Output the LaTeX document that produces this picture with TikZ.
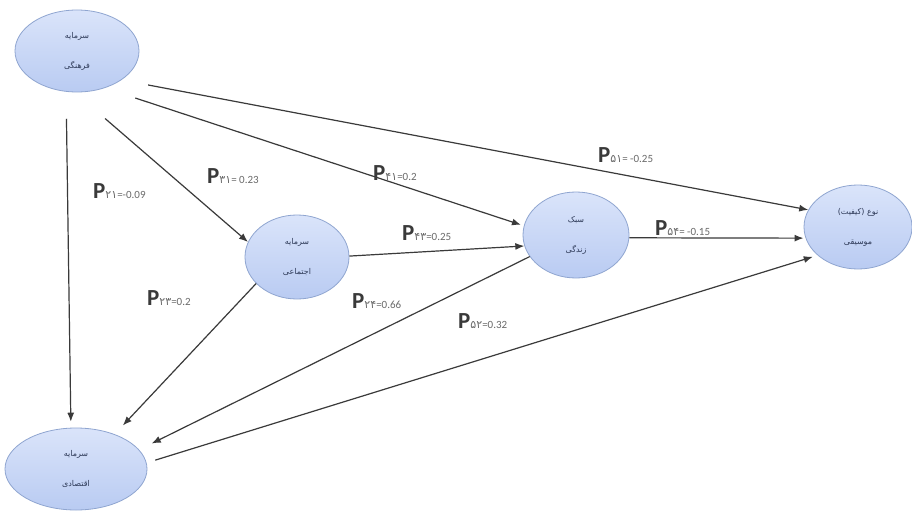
\documentclass[tikz,border=0pt]{standalone}
\usepackage{fontspec}
\setmainfont{Carlito}
\newfontfamily\fa[Script=Arabic]{DejaVu Sans}
\newfontfamily\fadig{DejaVu Sans}
\TeXXeTstate=1
\usetikzlibrary{arrows.meta,shapes.geometric}
\definecolor{ellA}{HTML}{DAE4FA}
\definecolor{ellB}{HTML}{B9CBF2}
\definecolor{ellD}{HTML}{8FA5D0}
\definecolor{lin}{HTML}{3A3A3A}
\definecolor{ptxt}{HTML}{3A3A3A}
\definecolor{stxt}{HTML}{6A6A6A}
\definecolor{etxt}{HTML}{2E3A58}
\newcommand\pl[2]{{\fontsize{23}{23}\selectfont\bfseries P}{\fontsize{11}{11}\selectfont\color{stxt}{\fadig #1}=#2}}
\begin{document}
\begin{tikzpicture}[x=1pt,y=-1pt,
  var/.style={ellipse, draw=ellD, line width=0.8pt, top color=ellA, bottom color=ellB,
    inner sep=0pt, text=etxt, font=\fa\fontsize{8}{30}\selectfont, align=center},
  arr/.style={draw=lin, line width=1.2pt, -{Latex[length=9pt,width=7pt]}},
  lab/.style={anchor=base west, inner sep=0pt, text=ptxt}]
\useasboundingbox (0,0) rectangle (912,516);
\fill[white] (0,0) rectangle (912,516);

\node[var, minimum width=124pt, minimum height=82pt] (cul) at (77,51) {\beginR سرمایه\endR\\\beginR فرهنگی\endR};
\node[var, minimum width=104pt, minimum height=84pt] (soc) at (297,257) {\beginR سرمایه\endR\\\beginR اجتماعی\endR};
\node[var, minimum width=106pt, minimum height=86pt] (life) at (576,235) {\beginR سبک\endR\\\beginR زندگی\endR};
\node[var, minimum width=108pt, minimum height=84pt] (mus) at (858,227) {\beginR نوع (کیفیت)\endR\\\beginR موسیقی\endR};
\node[var, minimum width=142pt, minimum height=82pt] (eco) at (76,469) {\beginR سرمایه\endR\\\beginR اقتصادی\endR};

\draw[arr, shorten <=27pt, shorten >=6pt] (cul.-105) -- (eco.97);
\draw[arr, shorten <=40pt] (cul.-93.5) -- (soc.163);
\draw[arr, shorten <=32pt, shorten >=3pt] (cul.-53) -- (life.170);
\draw[arr, shorten <=27pt] (cul.-33) -- (mus.161);
\draw[arr] (soc.1) -- (life.-168);
\draw[arr, shorten >=2pt] (life.-3) -- (mus.-168);
\draw[arr, shorten <=9pt, shorten >=5pt] (eco.5) -- (mus.-145);
\draw[arr, shorten >=12pt] (soc.-147) -- (eco.42);
\draw[arr, shorten >=14pt] (life.-155) -- (eco.17);

\node[lab] (l21) at (93,198) {\pl{۲۱}{-0.09}};
\node[lab] (l31) at (207,183) {\pl{۳۱}{ 0.23}};
\node[lab] (l41) at (373,180) {\pl{۴۱}{0.2}};
\node[lab] (l43) at (402,240) {\pl{۴۳}{0.25}};
\node[lab] (l51) at (598,162) {\pl{۵۱}{ -0.25}};
\node[lab] (l54) at (655,235) {\pl{۵۴}{ -0.15}};
\node[lab] (l23) at (147,305) {\pl{۲۳}{0.2}};
\node[lab] (l24) at (352,308) {\pl{۲۴}{0.66}};
\node[lab] (l52) at (458,328) {\pl{۵۲}{0.32}};
\end{tikzpicture}
\end{document}
